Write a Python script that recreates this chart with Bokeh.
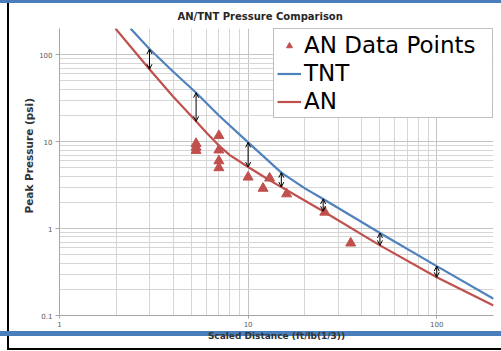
from bokeh.plotting import figure
from bokeh.models import (Range1d, FixedTicker, BasicTickFormatter, Legend, LegendItem,
                          Arrow, OpenHead, ColumnDataSource, Title)
from bokeh.embed import file_html
from bokeh.resources import INLINE

# Measured AN blast points: scaled distance (ft/lb^(1/3)) and peak pressure (psi)
an_points_dist = [5.3, 5.3, 5.3, 7, 7, 7, 7, 10, 12, 13, 16, 25.5, 35]
an_points_psi = [9.5, 8.6, 7.9, 11.7, 8.0, 6.0, 5.0, 3.9, 2.9, 3.8, 2.5, 1.54, 0.68]

# TNT reference curve
tnt_dist = [2.38, 3, 4, 5.3, 7, 10, 15, 20, 25, 50, 100, 200]
tnt_psi = [200, 116, 64, 36.5, 20, 9.8, 4.4, 2.9, 2.19, 0.89, 0.37, 0.156]

# AN curve
an_dist = [1.98, 3, 4, 5.3, 6, 7, 8, 10, 12, 15, 25, 50, 100, 200]
an_psi = [200, 68, 33, 17.1, 12.7, 9.0, 7.0, 5.1, 4.0, 3.0, 1.58, 0.64, 0.275, 0.13]

# distances where the gap between the two curves is marked
arrow_dist = [3, 5.3, 10, 15, 25, 50, 100]

BLUE = "#4F81BD"
RED = "#C0504D"
RULE = "#4a7ebb"
FONT = "DejaVu Sans"

p = figure(width=501, height=351, x_axis_type="log", y_axis_type="log",
           x_range=Range1d(1, 200), y_range=Range1d(0.1, 200),
           title="AN/TNT Pressure Comparison",
           output_backend="svg", toolbar_location=None,
           min_border_left=59, min_border_right=8, min_border_top=28, min_border_bottom=36,
           background_fill_color="white", border_fill_alpha=0,
           outline_line_color=None)

# slide frame behind the transparent border area: blue rules, black left/bottom edge
p.styles = {
    "background-color": "white",
    "background-image": ", ".join([f"linear-gradient({c}, {c})" for c in (RULE, RULE, "black", "black")]),
    "background-size": "501px 3px, 501px 5px, 2px 347px, 494px 2px",
    "background-position": "0px 0px, 0px 331px, 7px 3px, 7px 348px",
    "background-repeat": "no-repeat",
}

p.title.align = "left"
p.title.offset = 118
p.title.text_font = FONT
p.title.text_font_size = "10px"
p.title.text_font_style = "bold"
p.title.text_color = "#262626"
p.title.standoff = 14

# log ticks: decades labelled, 2..9 minor lines
x_minor = [m * 10 ** k for k in range(0, 3) for m in range(2, 10)]
y_minor = [m * 10 ** k for k in range(-1, 3) for m in range(2, 10)]
p.xaxis.ticker = FixedTicker(ticks=[1, 10, 100], minor_ticks=x_minor)
p.yaxis.ticker = FixedTicker(ticks=[0.1, 1, 10, 100], minor_ticks=y_minor)
p.xaxis.formatter = BasicTickFormatter()
p.yaxis.formatter = BasicTickFormatter()

for ax in (p.xaxis, p.yaxis):
    ax.axis_line_color = "#a6a6a6"
    ax.major_tick_line_color = "#a6a6a6"
    ax.minor_tick_out = 0
    ax.minor_tick_in = 0
    ax.major_tick_in = 0
    ax.major_label_text_font = FONT
    ax.major_label_text_font_size = "7px"
    ax.major_label_text_color = "#595959"
p.yaxis.major_tick_out = 4
p.xaxis.major_tick_out = 3
p.yaxis.major_label_standoff = 3
p.xaxis.major_label_standoff = 2

p.xaxis.axis_label = "Scaled Distance (ft/lb(1/3))"
p.xaxis.axis_label_text_font = FONT
p.xaxis.axis_label_text_font_size = "9px"
p.xaxis.axis_label_text_font_style = "bold"
p.xaxis.axis_label_text_color = "#333333"
p.xaxis.axis_label_standoff = 1

# y axis title, set slightly above the middle of the plot area
ytitle = Title(text="Peak Pressure (psi)", align="left", offset=102, standoff=4,
               text_font=FONT, text_font_size="10.5px", text_font_style="bold",
               text_color="#333333")
p.add_layout(ytitle, "left")

for g in (p.xgrid, p.ygrid):
    g.grid_line_color = "#c4c4c4"
    g.minor_grid_line_color = "#d6d6d6"
    g.grid_line_width = 1

# curves
tnt_r = p.line(tnt_dist, tnt_psi, line_color=BLUE, line_width=2.2)
an_r = p.line(an_dist, an_psi, line_color=RED, line_width=2.2)
pts_r = p.scatter(an_points_dist, an_points_psi, marker="triangle", size=10,
                  fill_color=RED, line_color=RED)

# double arrows between the curves
arrow_src = ColumnDataSource(dict(
    x=arrow_dist,
    top=[tnt_psi[tnt_dist.index(d)] for d in arrow_dist],
    bottom=[an_psi[an_dist.index(d)] for d in arrow_dist],
))
p.add_layout(Arrow(x_start="x", y_start="bottom", x_end="x", y_end="top", source=arrow_src,
                   line_color="black", line_width=1,
                   start=OpenHead(size=5, line_width=1, line_color="black"),
                   end=OpenHead(size=5, line_width=1, line_color="black")))

legend = Legend(items=[
    LegendItem(label="AN Data Points", renderers=[pts_r]),
    LegendItem(label="TNT", renderers=[tnt_r]),
    LegendItem(label="AN", renderers=[an_r]),
], location="top_right")
legend.label_text_font = FONT
legend.label_text_font_size = "23px"
legend.label_text_color = "black"
legend.border_line_color = "#7f7f7f"
legend.border_line_width = 1
legend.background_fill_color = "white"
legend.background_fill_alpha = 1
legend.padding = 3
legend.spacing = 2
legend.glyph_width = 24
legend.glyph_height = 15
legend.label_standoff = 3
legend.label_width = 185
legend.margin = 0
p.add_layout(legend, "center")

open("out.html", "w").write(file_html(p, INLINE))
